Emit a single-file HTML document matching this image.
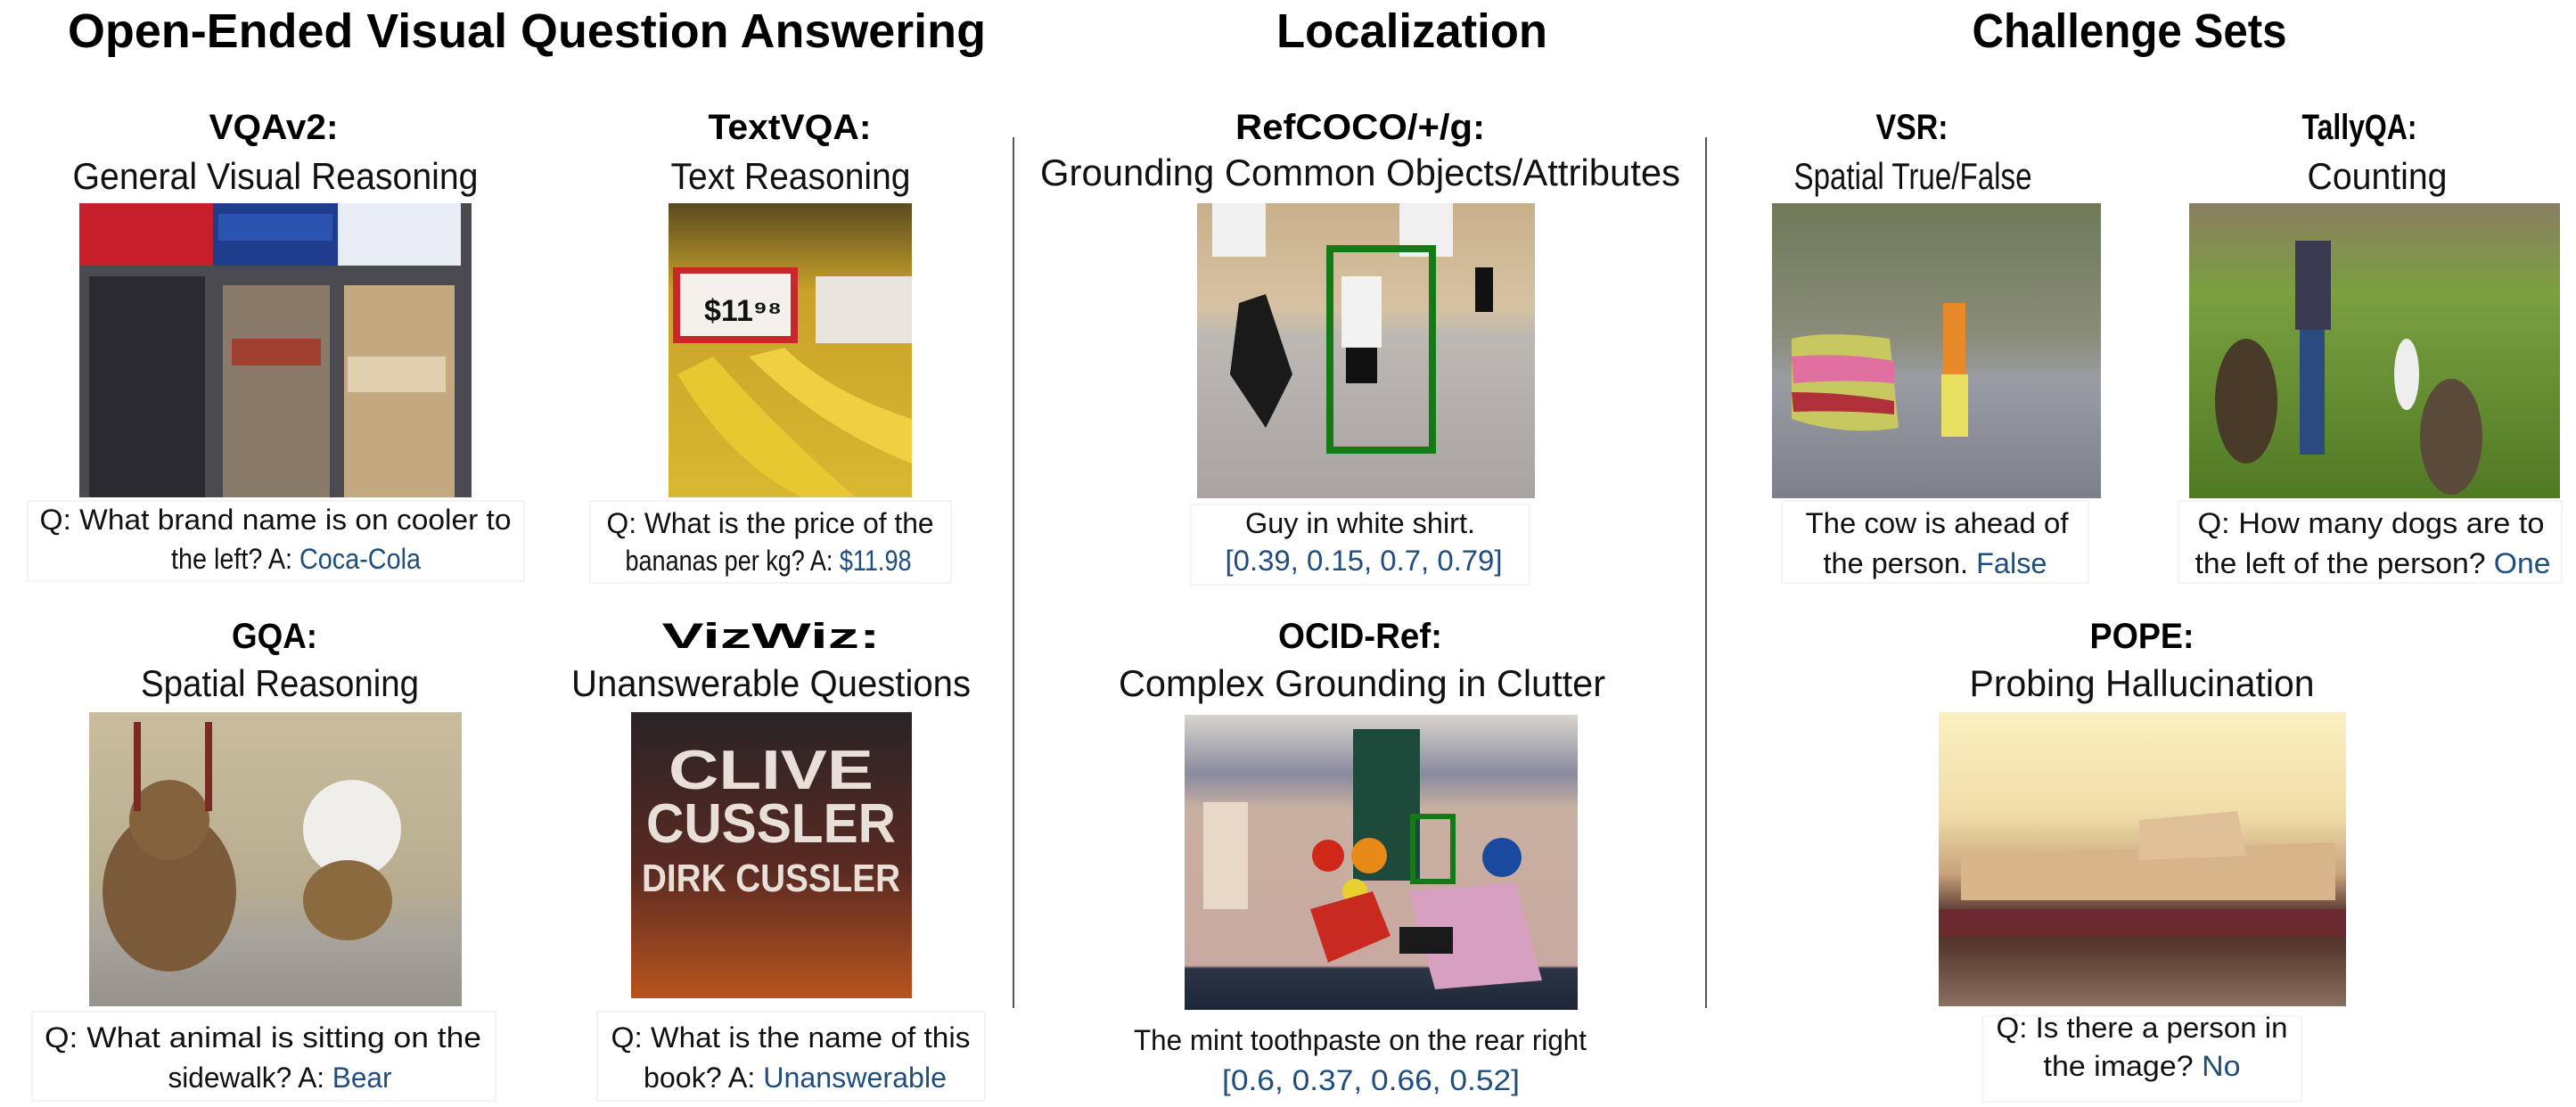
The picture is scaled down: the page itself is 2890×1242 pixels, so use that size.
<!DOCTYPE html>
<html><head><meta charset="utf-8"><style>
html,body{margin:0;padding:0;background:#fff;}
svg{display:block;}
.h{font-family:"Liberation Sans",sans-serif;font-weight:bold;fill:#000;}
.s{font-family:"Liberation Sans",sans-serif;fill:#111;}
.c{font-family:"Liberation Sans",sans-serif;fill:#111;font-size:32px;}
.b{fill:#1f4e7e;}
</style></head><body>
<svg width="2890" height="1242" viewBox="0 0 2890 1242" xmlns="http://www.w3.org/2000/svg">
<defs>
<linearGradient id="gBan" x1="0" y1="0" x2="0" y2="1"><stop offset="0" stop-color="#5a4a20"/><stop offset="0.3" stop-color="#c9a22a"/><stop offset="1" stop-color="#d8b830"/></linearGradient>
<linearGradient id="gCourt" x1="0" y1="0" x2="0" y2="1"><stop offset="0" stop-color="#c8b08a"/><stop offset="0.35" stop-color="#d6c2a2"/><stop offset="0.45" stop-color="#bdb8b2"/><stop offset="1" stop-color="#a8a4a2"/></linearGradient>
<linearGradient id="gVsr" x1="0" y1="0" x2="0" y2="1"><stop offset="0" stop-color="#6f7a58"/><stop offset="0.45" stop-color="#8a8c7a"/><stop offset="0.6" stop-color="#9a9ca4"/><stop offset="1" stop-color="#7d8088"/></linearGradient>
<linearGradient id="gTal" x1="0" y1="0" x2="0" y2="1"><stop offset="0" stop-color="#8a7d62"/><stop offset="0.3" stop-color="#7aa040"/><stop offset="1" stop-color="#4f7a24"/></linearGradient>
<linearGradient id="gGqa" x1="0" y1="0" x2="0" y2="1"><stop offset="0" stop-color="#c9bd9e"/><stop offset="0.6" stop-color="#b8ac90"/><stop offset="0.75" stop-color="#a9a49c"/><stop offset="1" stop-color="#96928c"/></linearGradient>
<linearGradient id="gViz" x1="0" y1="0" x2="0" y2="1"><stop offset="0" stop-color="#2a2326"/><stop offset="0.55" stop-color="#5a2a22"/><stop offset="1" stop-color="#b8541e"/></linearGradient>
<linearGradient id="gOcid" x1="0" y1="0" x2="0" y2="1"><stop offset="0" stop-color="#d8d4cc"/><stop offset="0.2" stop-color="#8a8aa0"/><stop offset="0.32" stop-color="#c8b0a0"/><stop offset="0.85" stop-color="#c8a8a0"/><stop offset="0.86" stop-color="#2c3446"/><stop offset="1" stop-color="#1e2838"/></linearGradient>
<linearGradient id="gPope" x1="0" y1="0" x2="0" y2="1"><stop offset="0" stop-color="#fbf1c0"/><stop offset="0.35" stop-color="#f0dca8"/><stop offset="0.55" stop-color="#c8a27a"/><stop offset="0.7" stop-color="#4a2a2a"/><stop offset="0.8" stop-color="#5a3a30"/><stop offset="1" stop-color="#8a7060"/></linearGradient>
</defs>

<text class="h" x="591" y="53" font-size="54" text-anchor="middle" textLength="1030" lengthAdjust="spacingAndGlyphs">Open-Ended Visual Question Answering</text>
<text class="h" x="1584" y="53" font-size="54" text-anchor="middle" textLength="304" lengthAdjust="spacingAndGlyphs">Localization</text>
<text class="h" x="2389" y="53" font-size="54" text-anchor="middle" textLength="353" lengthAdjust="spacingAndGlyphs">Challenge Sets</text>

<line x1="1137" y1="154" x2="1137" y2="1131" stroke="#555" stroke-width="2"/>
<line x1="1914" y1="154" x2="1914" y2="1131" stroke="#555" stroke-width="2"/>

<g>
<text class="h" x="307" y="156" font-size="40" text-anchor="middle" textLength="145" lengthAdjust="spacingAndGlyphs">VQAv2:</text>
<text class="s" x="309" y="212" font-size="42" text-anchor="middle" textLength="455" lengthAdjust="spacingAndGlyphs">General Visual Reasoning</text></g>
<g>
<text class="h" x="886" y="156" font-size="40" text-anchor="middle" textLength="183" lengthAdjust="spacingAndGlyphs">TextVQA:</text>
<text class="s" x="887" y="212" font-size="42" text-anchor="middle" textLength="269" lengthAdjust="spacingAndGlyphs">Text Reasoning</text></g>
<g>
<text class="h" x="1526" y="156" font-size="40" text-anchor="middle" textLength="280" lengthAdjust="spacingAndGlyphs">RefCOCO/+/g:</text>
<text class="s" x="1526" y="208" font-size="42" text-anchor="middle" textLength="718" lengthAdjust="spacingAndGlyphs">Grounding Common Objects/Attributes</text></g>
<g>
<text class="h" x="2145" y="156" font-size="40" text-anchor="middle" textLength="81" lengthAdjust="spacingAndGlyphs">VSR:</text>
<text class="s" x="2146" y="212" font-size="42" text-anchor="middle" textLength="267" lengthAdjust="spacingAndGlyphs">Spatial True/False</text></g>
<g>
<text class="h" x="2647" y="156" font-size="40" text-anchor="middle" textLength="129" lengthAdjust="spacingAndGlyphs">TallyQA:</text>
<text class="s" x="2667" y="212" font-size="42" text-anchor="middle" textLength="157" lengthAdjust="spacingAndGlyphs">Counting</text></g>

<g>
<rect x="89" y="228" width="440" height="330" fill="#4a4a50"/>
<rect x="89" y="228" width="150" height="70" fill="#c8202a"/>
<rect x="239" y="228" width="140" height="70" fill="#203c8c"/>
<rect x="379" y="228" width="138" height="70" fill="#e8ecf4"/>
<rect x="245" y="240" width="128" height="30" fill="#2a54b0"/>
<rect x="100" y="310" width="130" height="248" fill="#2a2a30"/>
<rect x="250" y="320" width="120" height="238" fill="#8a7a6a"/>
<rect x="386" y="320" width="124" height="238" fill="#c4a880"/>
<rect x="390" y="400" width="110" height="40" fill="#e0d0b0"/>
<rect x="260" y="380" width="100" height="30" fill="#a04030"/>
</g>
<g>
<rect x="750" y="228" width="273" height="330" fill="url(#gBan)"/>
<rect x="755" y="300" width="140" height="85" fill="#c8282a"/>
<rect x="763" y="307" width="124" height="70" fill="#f4f0ec"/>
<text x="790" y="360" font-family="Liberation Sans" font-weight="bold" font-size="34" fill="#111">$11⁹⁸</text>
<rect x="915" y="310" width="108" height="75" fill="#e8e6dc"/>
<path d="M760 420 Q820 520 900 558 L960 558 Q870 480 800 400 Z" fill="#e8c830"/>
<path d="M840 400 Q920 480 1023 520 L1023 470 Q930 440 880 390 Z" fill="#f0d040"/>
</g>
<g>
<rect x="1343" y="228" width="379" height="331" fill="url(#gCourt)"/>
<rect x="1360" y="228" width="60" height="60" fill="#f0f0f0"/>
<rect x="1570" y="228" width="60" height="60" fill="#f0f0f0"/>
<path d="M1390 340 L1420 330 L1450 420 L1420 480 L1380 420 Z" fill="#1a1a1a"/>
<rect x="1505" y="310" width="45" height="80" fill="#f2f2f2"/>
<rect x="1510" y="390" width="35" height="40" fill="#111"/>
<rect x="1655" y="300" width="20" height="50" fill="#111"/>
<rect x="1492" y="279" width="115" height="226" fill="none" stroke="#137a16" stroke-width="8"/>
</g>
<g>
<rect x="1988" y="228" width="369" height="331" fill="url(#gVsr)"/>
<path d="M2010 380 Q2050 370 2120 380 L2130 480 Q2070 490 2010 470 Z" fill="#c8c860"/>
<path d="M2010 400 Q2070 395 2125 405 L2125 430 Q2070 425 2012 430 Z" fill="#e070a0"/>
<path d="M2010 440 Q2070 440 2125 450 L2125 465 Q2070 460 2012 462 Z" fill="#b0303a"/>
<rect x="2180" y="340" width="25" height="120" fill="#e88a2a"/>
<rect x="2178" y="420" width="30" height="70" fill="#e8e060"/>
</g>
<g>
<rect x="2456" y="228" width="416" height="331" fill="url(#gTal)"/>
<rect x="2575" y="270" width="40" height="100" fill="#3a3a50"/>
<rect x="2580" y="370" width="28" height="140" fill="#2a4a80"/>
<ellipse cx="2520" cy="450" rx="35" ry="70" fill="#4a3a2a"/>
<ellipse cx="2750" cy="490" rx="35" ry="65" fill="#5a4a3a"/>
<ellipse cx="2700" cy="420" rx="14" ry="40" fill="#eeeeee"/>
</g>

<g>
<rect x="31" y="562" width="557" height="90" fill="none" stroke="#f4f4f4" stroke-width="2"/>
<text class="c" x="309" y="594" text-anchor="middle" textLength="529" lengthAdjust="spacingAndGlyphs">Q: What brand name is on cooler to</text>
<text class="c" x="332" y="638" text-anchor="middle" textLength="280" lengthAdjust="spacingAndGlyphs">the left? A: <tspan class="b">Coca-Cola</tspan></text></g>
<g>
<rect x="662" y="562" width="405" height="92" fill="none" stroke="#f4f4f4" stroke-width="2"/>
<text class="c" x="864" y="598" text-anchor="middle" textLength="367" lengthAdjust="spacingAndGlyphs">Q: What is the price of the</text>
<text class="c" x="862" y="640" text-anchor="middle" textLength="321" lengthAdjust="spacingAndGlyphs">bananas per kg? A: <tspan class="b">$11.98</tspan></text></g>
<g>
<rect x="1336" y="566" width="380" height="90" fill="none" stroke="#f4f4f4" stroke-width="2"/>
<text class="c" x="1526" y="598" text-anchor="middle" textLength="258" lengthAdjust="spacingAndGlyphs">Guy in white shirt.</text>
<text class="c b" x="1530" y="640" text-anchor="middle" textLength="311" lengthAdjust="spacingAndGlyphs">[0.39, 0.15, 0.7, 0.79]</text></g>
<g>
<rect x="1999" y="562" width="344" height="92" fill="none" stroke="#f4f4f4" stroke-width="2"/>
<text class="c" x="2173" y="598" text-anchor="middle" textLength="295" lengthAdjust="spacingAndGlyphs">The cow is ahead of</text>
<text class="c" x="2171" y="643" text-anchor="middle" textLength="251" lengthAdjust="spacingAndGlyphs">the person. <tspan class="b">False</tspan></text></g>
<g>
<rect x="2444" y="562" width="430" height="92" fill="none" stroke="#f4f4f4" stroke-width="2"/>
<text class="c" x="2660" y="598" text-anchor="middle" textLength="389" lengthAdjust="spacingAndGlyphs">Q: How many dogs are to</text>
<text class="c" x="2662" y="643" text-anchor="middle" textLength="399" lengthAdjust="spacingAndGlyphs">the left of the person? <tspan class="b">One</tspan></text></g>

<g>
<text class="h" x="308" y="727" font-size="40" text-anchor="middle" textLength="96" lengthAdjust="spacingAndGlyphs">GQA:</text>
<text class="s" x="314" y="781" font-size="42" text-anchor="middle" textLength="312" lengthAdjust="spacingAndGlyphs">Spatial Reasoning</text></g>
<g>
<text class="h" x="865" y="727" font-size="40" text-anchor="middle" textLength="245" lengthAdjust="spacingAndGlyphs">VizWiz:</text>
<text class="s" x="865" y="781" font-size="42" text-anchor="middle" textLength="448" lengthAdjust="spacingAndGlyphs">Unanswerable Questions</text></g>
<g>
<text class="h" x="1526" y="727" font-size="40" text-anchor="middle" textLength="184" lengthAdjust="spacingAndGlyphs">OCID-Ref:</text>
<text class="s" x="1528" y="781" font-size="42" text-anchor="middle" textLength="546" lengthAdjust="spacingAndGlyphs">Complex Grounding in Clutter</text></g>
<g>
<text class="h" x="2403" y="727" font-size="40" text-anchor="middle" textLength="117" lengthAdjust="spacingAndGlyphs">POPE:</text>
<text class="s" x="2403" y="781" font-size="42" text-anchor="middle" textLength="387" lengthAdjust="spacingAndGlyphs">Probing Hallucination</text></g>

<g>
<rect x="100" y="799" width="418" height="330" fill="url(#gGqa)"/>
<ellipse cx="190" cy="1000" rx="75" ry="90" fill="#7a5a38"/>
<circle cx="190" cy="920" r="45" fill="#84623e"/>
<ellipse cx="395" cy="930" rx="55" ry="55" fill="#f0eeea"/>
<ellipse cx="390" cy="1010" rx="50" ry="45" fill="#8a6a3e"/>
<rect x="150" y="810" width="8" height="100" fill="#7a2a22"/>
<rect x="230" y="810" width="8" height="100" fill="#7a2a22"/>
</g>
<g>
<rect x="708" y="799" width="315" height="321" fill="url(#gViz)"/>
<text x="865" y="885" font-family="Liberation Sans" font-weight="bold" font-size="62" fill="#e8e0d8" text-anchor="middle" textLength="230" lengthAdjust="spacingAndGlyphs">CLIVE</text>
<text x="865" y="945" font-family="Liberation Sans" font-weight="bold" font-size="62" fill="#e8e0d8" text-anchor="middle" textLength="280" lengthAdjust="spacingAndGlyphs">CUSSLER</text>
<text x="865" y="1000" font-family="Liberation Sans" font-weight="bold" font-size="44" fill="#e8e0d8" text-anchor="middle" textLength="290" lengthAdjust="spacingAndGlyphs">DIRK CUSSLER</text>
</g>
<g>
<rect x="1329" y="802" width="441" height="331" fill="url(#gOcid)"/>
<rect x="1518" y="818" width="75" height="170" fill="#1e4a3c"/>
<rect x="1350" y="900" width="50" height="120" fill="#e8d8c8"/>
<circle cx="1490" cy="960" r="18" fill="#d02818"/>
<circle cx="1536" cy="960" r="20" fill="#e88a18"/>
<circle cx="1520" cy="1000" r="14" fill="#e8d030"/>
<circle cx="1685" cy="962" r="22" fill="#1a4aa0"/>
<path d="M1580 1000 L1700 990 L1730 1100 L1610 1110 Z" fill="#d8a0c0"/>
<path d="M1470 1020 L1540 1000 L1560 1050 L1490 1080 Z" fill="#c82a20"/>
<rect x="1570" y="1040" width="60" height="30" fill="#1a1a1a"/>
<rect x="1585" y="916" width="45" height="73" fill="none" stroke="#137a16" stroke-width="6"/>
</g>
<g>
<rect x="2175" y="799" width="457" height="330" fill="url(#gPope)"/>
<path d="M2200 960 L2620 945 L2620 1010 L2200 1010 Z" fill="#d8b48a"/>
<path d="M2400 920 L2510 910 L2520 960 L2400 965 Z" fill="#e0c098"/>
<rect x="2175" y="1020" width="457" height="30" fill="#6a2a30"/>
</g>

<g>
<rect x="36" y="1135" width="520" height="100" fill="none" stroke="#f4f4f4" stroke-width="2"/>
<text class="c" x="295" y="1175" text-anchor="middle" textLength="490" lengthAdjust="spacingAndGlyphs">Q: What animal is sitting on the</text>
<text class="c" x="314" y="1220" text-anchor="middle" textLength="251" lengthAdjust="spacingAndGlyphs">sidewalk? A: <tspan class="b">Bear</tspan></text></g>
<g>
<rect x="670" y="1135" width="435" height="100" fill="none" stroke="#f4f4f4" stroke-width="2"/>
<text class="c" x="887" y="1175" text-anchor="middle" textLength="403" lengthAdjust="spacingAndGlyphs">Q: What is the name of this</text>
<text class="c" x="892" y="1220" text-anchor="middle" textLength="340" lengthAdjust="spacingAndGlyphs">book? A: <tspan class="b">Unanswerable</tspan></text></g>
<g>
<text class="c" x="1526" y="1178" text-anchor="middle" textLength="508" lengthAdjust="spacingAndGlyphs">The mint toothpaste on the rear right</text>
<text class="c b" x="1538" y="1223" text-anchor="middle" textLength="334" lengthAdjust="spacingAndGlyphs">[0.6, 0.37, 0.66, 0.52]</text></g>
<g>
<rect x="2224" y="1140" width="358" height="96" fill="none" stroke="#f4f4f4" stroke-width="2"/>
<text class="c" x="2403" y="1164" text-anchor="middle" textLength="327" lengthAdjust="spacingAndGlyphs">Q: Is there a person in</text>
<text class="c" x="2403" y="1207" text-anchor="middle" textLength="221" lengthAdjust="spacingAndGlyphs">the image? <tspan class="b">No</tspan></text></g>
</svg>
</body></html>
